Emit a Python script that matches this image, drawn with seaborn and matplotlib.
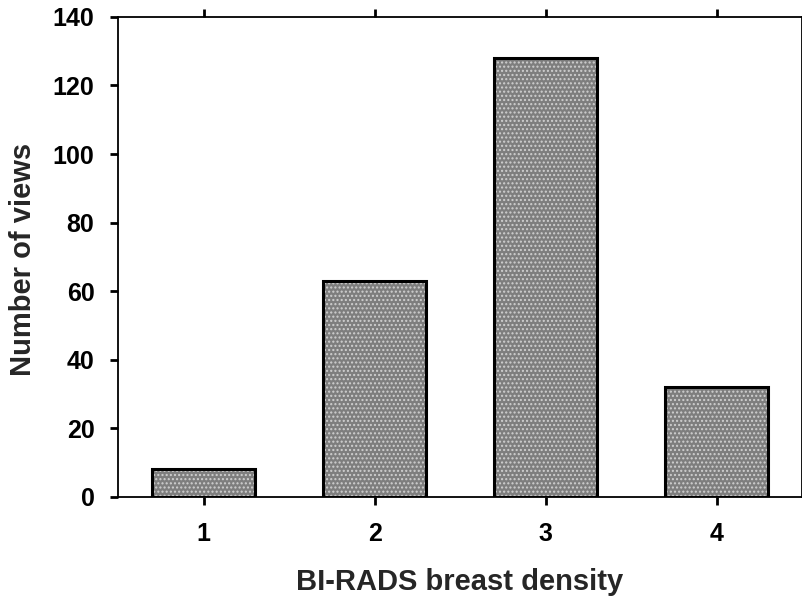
import matplotlib
matplotlib.use("Agg")
import matplotlib.pyplot as plt
import seaborn as sns
import pandas as pd

categories = ["1", "2", "3", "4"]
views = [8, 63, 128, 32]
yticks = [0, 20, 40, 60, 80, 100, 120, 140]

sns.set_theme(style="ticks")
plt.rcParams["font.family"] = ["Liberation Sans", "DejaVu Sans"]
plt.rcParams["font.weight"] = "bold"
plt.rcParams["hatch.linewidth"] = 1.0

df = pd.DataFrame({"density": categories, "views": views})

fig = plt.figure(figsize=(8.03, 6.03), dpi=100)
ax = fig.add_axes([0.147, 0.176, 0.852, 0.796])

# stippled fill
sns.barplot(data=df, x="density", y="views", order=categories, color="#7e7e7e",
            saturation=1, width=0.6, edgecolor="#d0d0d0", linewidth=0,
            hatch="....", ax=ax)
# black outlines
sns.barplot(data=df, x="density", y="views", order=categories, fill=False,
            width=0.6, edgecolor="black", linewidth=2.2, ax=ax)

ax.set_xlim(-0.5, 3.5)
ax.set_ylim(0, 140)
ax.set_yticks(yticks)
ax.set_yticklabels([str(t) for t in yticks])

for s in ax.spines.values():
    s.set_visible(True)
    s.set_linewidth(1.3)
    s.set_color("black")

ax.tick_params(axis="both", which="major", direction="out", length=6, width=2,
               labelsize=18, colors="black", top=True, right=True,
               labeltop=False, labelright=False)
for lab in ax.get_xticklabels() + ax.get_yticklabels():
    lab.set_fontweight("bold")
ax.tick_params(axis="x", pad=12)
ax.tick_params(axis="y", pad=11)

ax.set_xlabel("BI-RADS breast density", fontsize=21, fontweight="bold")
ax.set_ylabel("Number of views", fontsize=21, fontweight="bold")
ax.xaxis.set_label_coords(0.5, -0.148)
ax.yaxis.set_label_coords(-0.118, 0.494)

fig.savefig("out.png", dpi=100)
